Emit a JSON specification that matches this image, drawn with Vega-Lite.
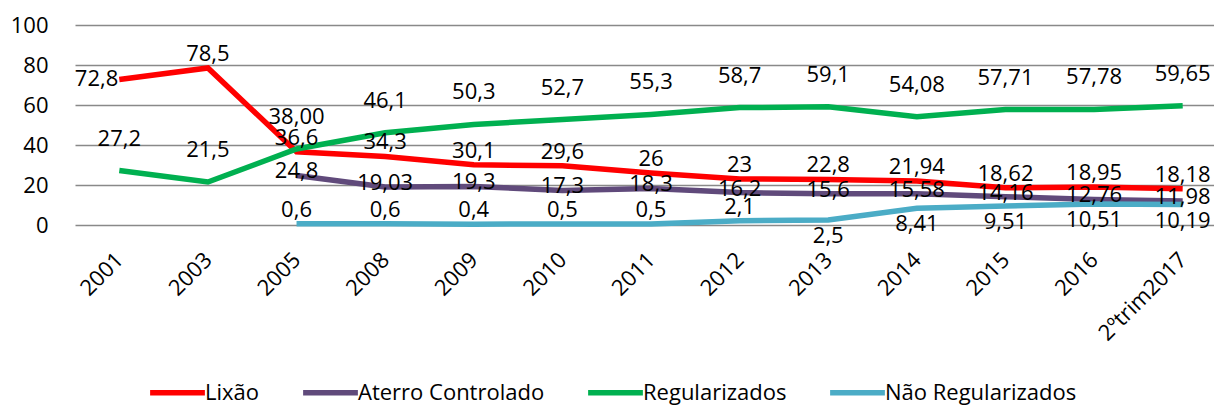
{
  "$schema": "https://vega.github.io/schema/vega-lite/v6.json",
  "autosize": {"type": "none"},
  "width": 1152,
  "height": 200,
  "padding": {"left": 75, "top": 25, "right": 0, "bottom": 182},
  "background": "white",
  "config": {"font": "Open Sans", "view": {"stroke": null}},
  "data": {"values": [
    {"ano": "2001", "serie": "Lixão", "valor": 72.8, "rotulo": "72,8"},
    {"ano": "2003", "serie": "Lixão", "valor": 78.5, "rotulo": "78,5"},
    {"ano": "2005", "serie": "Lixão", "valor": 36.6, "rotulo": "36,6"},
    {"ano": "2008", "serie": "Lixão", "valor": 34.3, "rotulo": "34,3"},
    {"ano": "2009", "serie": "Lixão", "valor": 30.1, "rotulo": "30,1"},
    {"ano": "2010", "serie": "Lixão", "valor": 29.6, "rotulo": "29,6"},
    {"ano": "2011", "serie": "Lixão", "valor": 26, "rotulo": "26"},
    {"ano": "2012", "serie": "Lixão", "valor": 23, "rotulo": "23"},
    {"ano": "2013", "serie": "Lixão", "valor": 22.8, "rotulo": "22,8"},
    {"ano": "2014", "serie": "Lixão", "valor": 21.94, "rotulo": "21,94"},
    {"ano": "2015", "serie": "Lixão", "valor": 18.62, "rotulo": "18,62"},
    {"ano": "2016", "serie": "Lixão", "valor": 18.95, "rotulo": "18,95"},
    {"ano": "2ºtrim2017", "serie": "Lixão", "valor": 18.18, "rotulo": "18,18"},
    {"ano": "2005", "serie": "Aterro Controlado", "valor": 24.8, "rotulo": "24,8"},
    {"ano": "2008", "serie": "Aterro Controlado", "valor": 19.03, "rotulo": "19,03"},
    {"ano": "2009", "serie": "Aterro Controlado", "valor": 19.3, "rotulo": "19,3"},
    {"ano": "2010", "serie": "Aterro Controlado", "valor": 17.3, "rotulo": "17,3"},
    {"ano": "2011", "serie": "Aterro Controlado", "valor": 18.3, "rotulo": "18,3"},
    {"ano": "2012", "serie": "Aterro Controlado", "valor": 16.2, "rotulo": "16,2"},
    {"ano": "2013", "serie": "Aterro Controlado", "valor": 15.6, "rotulo": "15,6"},
    {"ano": "2014", "serie": "Aterro Controlado", "valor": 15.58, "rotulo": "15,58"},
    {"ano": "2015", "serie": "Aterro Controlado", "valor": 14.16, "rotulo": "14,16"},
    {"ano": "2016", "serie": "Aterro Controlado", "valor": 12.76, "rotulo": "12,76"},
    {"ano": "2ºtrim2017", "serie": "Aterro Controlado", "valor": 11.98, "rotulo": "11,98"},
    {"ano": "2001", "serie": "Regularizados", "valor": 27.2, "rotulo": "27,2"},
    {"ano": "2003", "serie": "Regularizados", "valor": 21.5, "rotulo": "21,5"},
    {"ano": "2005", "serie": "Regularizados", "valor": 38.0, "rotulo": "38,00"},
    {"ano": "2008", "serie": "Regularizados", "valor": 46.1, "rotulo": "46,1"},
    {"ano": "2009", "serie": "Regularizados", "valor": 50.3, "rotulo": "50,3"},
    {"ano": "2010", "serie": "Regularizados", "valor": 52.7, "rotulo": "52,7"},
    {"ano": "2011", "serie": "Regularizados", "valor": 55.3, "rotulo": "55,3"},
    {"ano": "2012", "serie": "Regularizados", "valor": 58.7, "rotulo": "58,7"},
    {"ano": "2013", "serie": "Regularizados", "valor": 59.1, "rotulo": "59,1"},
    {"ano": "2014", "serie": "Regularizados", "valor": 54.08, "rotulo": "54,08"},
    {"ano": "2015", "serie": "Regularizados", "valor": 57.71, "rotulo": "57,71"},
    {"ano": "2016", "serie": "Regularizados", "valor": 57.78, "rotulo": "57,78"},
    {"ano": "2ºtrim2017", "serie": "Regularizados", "valor": 59.65, "rotulo": "59,65"},
    {"ano": "2005", "serie": "Não Regularizados", "valor": 0.6, "rotulo": "0,6"},
    {"ano": "2008", "serie": "Não Regularizados", "valor": 0.6, "rotulo": "0,6"},
    {"ano": "2009", "serie": "Não Regularizados", "valor": 0.4, "rotulo": "0,4"},
    {"ano": "2010", "serie": "Não Regularizados", "valor": 0.5, "rotulo": "0,5"},
    {"ano": "2011", "serie": "Não Regularizados", "valor": 0.5, "rotulo": "0,5"},
    {"ano": "2012", "serie": "Não Regularizados", "valor": 2.1, "rotulo": "2,1"},
    {"ano": "2013", "serie": "Não Regularizados", "valor": 2.5, "rotulo": "2,5"},
    {"ano": "2014", "serie": "Não Regularizados", "valor": 8.41, "rotulo": "8,41"},
    {"ano": "2015", "serie": "Não Regularizados", "valor": 9.51, "rotulo": "9,51"},
    {"ano": "2016", "serie": "Não Regularizados", "valor": 10.51, "rotulo": "10,51"},
    {"ano": "2ºtrim2017", "serie": "Não Regularizados", "valor": 10.19, "rotulo": "10,19"}
  ]},
  "encoding": {
    "x": {
      "field": "ano", "type": "ordinal",
      "sort": ["2001","2003","2005","2008","2009","2010","2011","2012","2013","2014","2015","2016","2ºtrim2017"],
      "scale": {"type": "point", "padding": 0.5},
      "axis": {"title": null, "domain": false, "ticks": false, "labelAngle": -45, "labelAlign": "right", "labelBaseline": "middle", "labelPadding": 31, "labelFontSize": 22, "labelColor": "#000000", "grid": false}
    },
    "y": {
      "field": "valor", "type": "quantitative",
      "scale": {"domain": [0, 100]},
      "axis": {"title": null, "values": [0,20,40,60,80,100], "domain": false, "ticks": false, "labelPadding": 27, "labelFontSize": 22, "labelColor": "#000000", "gridColor": "#898989", "gridWidth": 1.5, "gridOpacity": 1}
    }
  },
  "layer": [
    {
      "mark": {"type": "line", "strokeWidth": 5.5, "strokeCap": "butt"},
      "encoding": {
        "color": {
          "field": "serie", "type": "nominal",
          "sort": ["Lixão","Aterro Controlado","Regularizados","Não Regularizados"],
          "scale": {"domain": ["Lixão","Aterro Controlado","Regularizados","Não Regularizados"], "range": ["#FF0000","#604A7B","#00B050","#4BACC6"]},
          "legend": {"title": null, "orient": "none", "direction": "horizontal", "legendX": 72, "legendY": 337, "symbolType": "stroke", "symbolSize": 3000, "symbolStrokeWidth": 5.5, "labelFontSize": 22, "labelColor": "#000000", "labelLimit": 400, "columnPadding": 32, "labelOffset": -3}
        }
      }
    },
    {
      "transform": [{"filter": "datum.serie == 'Lixão' && datum.ano != '2001'"}],
      "mark": {"type": "text", "fontSize": 22, "dy": -14, "color": "#000000"},
      "encoding": {"text": {"field": "rotulo"}}
    },
    {
      "transform": [{"filter": "datum.serie == 'Lixão' && datum.ano == '2001'"}],
      "mark": {"type": "text", "fontSize": 22, "dx": -1, "align": "right", "color": "#000000"},
      "encoding": {"text": {"field": "rotulo"}}
    },
    {
      "transform": [{"filter": "datum.serie == 'Regularizados'"}],
      "mark": {"type": "text", "fontSize": 22, "dy": -32, "color": "#000000"},
      "encoding": {"text": {"field": "rotulo"}}
    },
    {
      "transform": [{"filter": "datum.serie == 'Aterro Controlado'"}],
      "mark": {"type": "text", "fontSize": 22, "dy": -4, "color": "#000000"},
      "encoding": {"text": {"field": "rotulo"}}
    },
    {
      "transform": [{"filter": "datum.serie == 'Não Regularizados' && datum.valor < 2.2"}],
      "mark": {"type": "text", "fontSize": 22, "dy": -14, "color": "#000000"},
      "encoding": {"text": {"field": "rotulo"}}
    },
    {
      "transform": [{"filter": "datum.serie == 'Não Regularizados' && datum.valor >= 2.2"}],
      "mark": {"type": "text", "fontSize": 22, "dy": 16, "color": "#000000"},
      "encoding": {"text": {"field": "rotulo"}}
    }
  ]
}
